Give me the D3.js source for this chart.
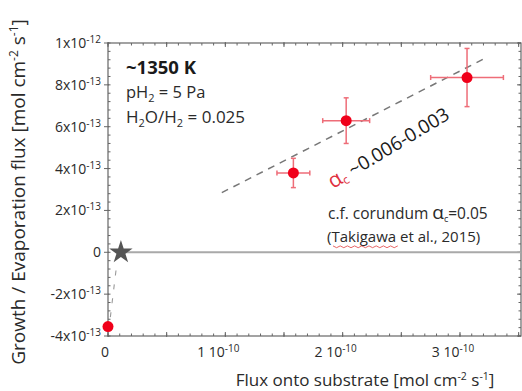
<!DOCTYPE html>
<html><head><meta charset="utf-8">
<script src="https://cdn.jsdelivr.net/npm/d3@7"></script>
<style>body{margin:0;background:#fff}svg{display:block;font-family:"Open Sans",Lato,sans-serif}</style>
</head><body><svg id="c" width="522" height="391"></svg>
<script>
// Data (x in mol cm^-2 s^-1, y in mol cm^-2 s^-1)
const pointX   = [0, 1.58e-10, 2.03e-10, 3.06e-10];
const pointY   = [-3.55e-13, 3.79e-13, 6.29e-13, 8.35e-13];
const errX     = [0, 0.14e-10, 0.20e-10, 0.31e-10];
const errY     = [0, 0.70e-13, 1.09e-13, 1.39e-13];
const starX    = [0.11e-10];
const starY    = [0];
const fitLineX = [0.97e-10, 3.23e-10];
const fitLineY = [2.85e-13, 9.32e-13];
const nearLineX = [0.02e-10, 0.075e-10];
const nearLineY = [-3.1e-13, -0.55e-13];
const xTicks = [0, 1e-10, 2e-10, 3e-10];
const xTickMant = ["0", "1 10", "2 10", "3 10"];
const xTickExp  = ["", "-10", "-10", "-10"];
const yTicks = [1e-12, 8e-13, 6e-13, 4e-13, 2e-13, 0, -2e-13, -4e-13];
const yTickMant = ["1x10", "8x10", "6x10", "4x10", "2x10", "0", "-2x10", "-4x10"];
const yTickExp  = ["-12", "-13", "-13", "-13", "-13", "", "-13", "-13"];

const svg = d3.select("#c");
const L = 108, R = 521, T = 43, B = 336;
const x = d3.scaleLinear().domain([0, 3.52e-10]).range([L, R]);
const y = d3.scaleLinear().domain([-4e-13, 1e-12]).range([B, T]);
const axisCol = "#666", textCol = "#2a2a2a";

// frame
svg.append("rect").attr("x", L).attr("y", T).attr("width", R - L).attr("height", B - T)
  .attr("fill", "none").attr("stroke", axisCol).attr("stroke-width", 1.2);

const xMinor = d3.range(0, 3.52e-10, 0.1e-10);
const xMajor = d3.range(0, 3.52e-10, 0.5e-10);
const gx = svg.append("g").attr("stroke", axisCol).attr("stroke-width", 1);
xMinor.forEach(v => {
  gx.append("line").attr("x1", x(v)).attr("x2", x(v)).attr("y1", B).attr("y2", B - 2.5);
  gx.append("line").attr("x1", x(v)).attr("x2", x(v)).attr("y1", T).attr("y2", T + 2.5);
});
xMajor.forEach(v => {
  gx.append("line").attr("x1", x(v)).attr("x2", x(v)).attr("y1", B + 1).attr("y2", B - 4);
  gx.append("line").attr("x1", x(v)).attr("x2", x(v)).attr("y1", T - 1).attr("y2", T + 4);
});
const yMinor = d3.range(-4e-13, 1.001e-12, 0.4e-13);
yMinor.forEach(v => {
  gx.append("line").attr("x1", L).attr("x2", L + 2.5).attr("y1", y(v)).attr("y2", y(v));
  gx.append("line").attr("x1", R).attr("x2", R - 2.5).attr("y1", y(v)).attr("y2", y(v));
});
yTicks.forEach(v => {
  gx.append("line").attr("x1", L - 4).attr("x2", L + 1).attr("y1", y(v)).attr("y2", y(v));
  gx.append("line").attr("x1", R).attr("x2", R - 4).attr("y1", y(v)).attr("y2", y(v));
});

// tick labels
yTicks.forEach((v, i) => {
  const t = svg.append("text").attr("x", L - 7).attr("y", y(v) + 5)
    .attr("text-anchor", "end").attr("fill", textCol).attr("font-size", 14);
  t.append("tspan").text(yTickMant[i]);
  if (yTickExp[i]) t.append("tspan").attr("dy", -5).attr("font-size", 10).text(yTickExp[i]);
});
xTicks.forEach((v, i) => {
  const t = svg.append("text").attr("x", x(v) - (i ? 7 : 3)).attr("y", 357)
    .attr("text-anchor", "middle").attr("fill", textCol).attr("font-size", 14);
  t.append("tspan").text(xTickMant[i]);
  if (xTickExp[i]) t.append("tspan").attr("dy", -5).attr("font-size", 10).text(xTickExp[i]);
});

// axis titles
const xt = svg.append("text").attr("x", 365).attr("y", 386).attr("text-anchor", "middle")
  .attr("fill", textCol).attr("font-size", 17);
xt.append("tspan").text("Flux onto substrate [mol cm");
xt.append("tspan").attr("dy", -6).attr("font-size", 10.5).text("-2");
xt.append("tspan").attr("dy", 6).text(" s");
xt.append("tspan").attr("dy", -6).attr("font-size", 10.5).text("-1");
xt.append("tspan").attr("dy", 6).text("]");

const yt = svg.append("text").attr("transform", "translate(25,192) rotate(-90)")
  .attr("text-anchor", "middle").attr("fill", textCol).attr("font-size", 19);
yt.append("tspan").text("Growth / Evaporation flux [mol cm");
yt.append("tspan").attr("dy", -7).attr("font-size", 12).text("-2");
yt.append("tspan").attr("dy", 7).text(" s");
yt.append("tspan").attr("dy", -7).attr("font-size", 12).text("-1");
yt.append("tspan").attr("dy", 7).text("]");

// zero line
svg.append("line").attr("x1", x(starX[0])).attr("x2", R).attr("y1", y(0)).attr("y2", y(0))
  .attr("stroke", "#a9a9a9").attr("stroke-width", 2);

// dashed lines
svg.append("line").attr("x1", x(fitLineX[0])).attr("y1", y(fitLineY[0]))
  .attr("x2", x(fitLineX[1])).attr("y2", y(fitLineY[1]))
  .attr("stroke", "#777").attr("stroke-width", 1.5).attr("stroke-dasharray", "7,6");
svg.append("line").attr("x1", x(nearLineX[0])).attr("y1", y(nearLineY[0]))
  .attr("x2", x(nearLineX[1])).attr("y2", y(nearLineY[1]))
  .attr("stroke", "#999").attr("stroke-width", 1.1).attr("stroke-dasharray", "5,9");

// star
svg.append("path").attr("d", d3.symbol().type(d3.symbolStar).size(170)())
  .attr("transform", `translate(${x(starX[0])},${y(starY[0])})`).attr("fill", "#555");

// error bars
const eCol = "#ee6d78";
const ge = svg.append("g").attr("stroke", eCol).attr("stroke-width", 1.5);
pointX.forEach((px, i) => {
  if (!errX[i]) return;
  const cx = x(px), cy = y(pointY[i]);
  const x0 = x(px - errX[i]), x1 = x(px + errX[i]);
  const y0 = y(pointY[i] + errY[i]), y1 = y(pointY[i] - errY[i]);
  ge.append("line").attr("x1", x0).attr("x2", x1).attr("y1", cy).attr("y2", cy);
  ge.append("line").attr("x1", cx).attr("x2", cx).attr("y1", y0).attr("y2", y1);
  [x0, x1].forEach(xx => ge.append("line").attr("x1", xx).attr("x2", xx).attr("y1", cy - 2.5).attr("y2", cy + 2.5));
  [y0, y1].forEach(yy => ge.append("line").attr("x1", cx - 2.5).attr("x2", cx + 2.5).attr("y1", yy).attr("y2", yy));
});
svg.selectAll("circle.pt").data(pointX).join("circle").attr("class", "pt")
  .attr("cx", d => x(d)).attr("cy", (d, i) => y(pointY[i])).attr("r", 5.5).attr("fill", "#f0001a");

// annotations
svg.append("text").attr("x", 126).attr("y", 74).attr("font-size", 18.5).attr("font-weight", "bold")
  .attr("fill", "#1a1a1a").text("~1350 K");
const t2 = svg.append("text").attr("x", 126).attr("y", 98).attr("font-size", 16.5).attr("fill", textCol);
t2.append("tspan").text("pH");
t2.append("tspan").attr("dy", 4).attr("font-size", 11).text("2");
t2.append("tspan").attr("dy", -4).text(" = 5 Pa");
const t3 = svg.append("text").attr("x", 126).attr("y", 123).attr("font-size", 17).attr("fill", textCol);
t3.append("tspan").text("H");
t3.append("tspan").attr("dy", 4).attr("font-size", 11).text("2");
t3.append("tspan").attr("dy", -4).text("O/H");
t3.append("tspan").attr("dy", 4).attr("font-size", 11).text("2");
t3.append("tspan").attr("dy", -4).text(" = 0.025");

const ta = svg.append("text").attr("transform", "translate(333,189) rotate(-31)")
  .attr("font-size", 19).attr("fill", "#1a1a1a");
ta.append("tspan").attr("fill", "#e0303e").attr("font-size", 21).text("α");
ta.append("tspan").attr("fill", "#e0303e").attr("font-size", 12).attr("dy", 3).text("c");
ta.append("tspan").attr("dy", -3).text(" ~0.006-0.003");

const t4 = svg.append("text").attr("x", 328).attr("y", 219).attr("font-size", 15.5).attr("fill", textCol);
t4.append("tspan").text("c.f. corundum ");
t4.append("tspan").attr("font-size", 19).text("α");
t4.append("tspan").attr("font-size", 9).attr("dy", 3).text("c");
t4.append("tspan").attr("dy", -3).text("=0.05");
svg.append("text").attr("x", 327).attr("y", 242).attr("font-size", 15).attr("fill", textCol)
  .text("(Takigawa et al., 2015)");
// spell-check squiggle under "Takigawa"
const sq = d3.range(0, 19).map(k => [333 + k * 3.6, 246.5 + (k % 2 ? 1.2 : -0.6)]);
svg.append("path").attr("d", d3.line()(sq)).attr("fill", "none").attr("stroke", "#e04040").attr("stroke-width", 0.8);
</script></body></html>
